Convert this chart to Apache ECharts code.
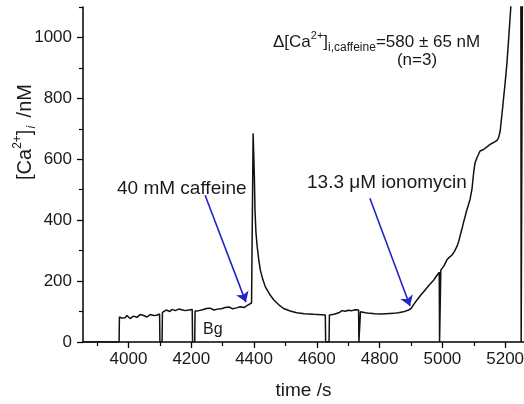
<!DOCTYPE html>
<html>
<head>
<meta charset="utf-8">
<script src="https://cdn.jsdelivr.net/npm/echarts@6/dist/echarts.min.js"></script>
<style>
  html, body { margin: 0; padding: 0; background: #fff; }
  #chart { width: 524px; height: 404px; }
</style>
</head>
<body>
<div id="chart"></div>
<script>
// trace pieces, [time s, Ca nM]
const restTrace = [
  [3855, 0], [3970, 0], [3971, 82], [3978, 79], [3984, 84], [3989, 80], [3995, 87], [4000, 83],
  [4005, 77], [4010, 82], [4016, 85], [4021, 79], [4027, 81], [4032, 86], [4037, 90], [4043, 86],
  [4048, 87], [4054, 83], [4059, 82], [4064, 88], [4069, 90], [4075, 86], [4080, 87], [4085, 89],
  [4090, 88], [4095, 90], [4099, 92], [4100, 0], [4107, 0], [4108, 97], [4114, 102], [4120, 105],
  [4126, 99], [4132, 100], [4138, 107], [4143, 110], [4149, 103], [4154, 104], [4160, 108],
  [4165, 111], [4170, 106], [4175, 107], [4181, 103], [4187, 109], [4192, 105], [4198, 103],
  [4203, 107], [4204, 0], [4211, 0], [4212, 102], [4218, 107], [4224, 103], [4230, 109],
  [4236, 106], [4242, 104], [4248, 110], [4254, 106], [4260, 111], [4266, 107], [4272, 105],
  [4278, 111], [4284, 108], [4290, 113], [4296, 109], [4302, 107], [4308, 113], [4314, 110],
  [4320, 115], [4326, 111], [4332, 109], [4338, 115], [4344, 112], [4350, 110], [4356, 116],
  [4362, 118], [4368, 113], [4374, 119], [4380, 121], [4386, 124], [4392, 128], [4395, 132]
];
const caffeineTrace = [
  [4397, 685], [4399, 680], [4401, 540], [4403, 430], [4406, 360], [4410, 313], [4415, 270],
  [4420, 236], [4428, 205], [4436, 181], [4450, 156], [4463, 138], [4478, 123], [4494, 110],
  [4515, 102], [4536, 96], [4560, 93], [4590, 91], [4627, 89], [4628, 0], [4639, 0], [4640, 89],
  [4655, 91], [4670, 96], [4680, 103], [4690, 101], [4700, 104], [4712, 103], [4722, 106],
  [4733, 105], [4734, 0], [4738, 0], [4739, 99], [4755, 96], [4770, 94], [4785, 93], [4802, 92],
  [4820, 93], [4845, 94], [4860, 96], [4876, 99], [4892, 105]
];
const ionomycinTrace = [
  [4900, 110], [4910, 125], [4919, 138], [4932, 155], [4945, 171], [4958, 187], [4972, 203],
  [4980, 215], [4990, 229], [4991, 0], [4994, 0], [4995, 236], [5005, 250], [5014, 269],
  [5022, 278], [5030, 285], [5038, 297], [5046, 313], [5052, 330], [5057, 351], [5062, 370],
  [5067, 391], [5077, 430], [5088, 468], [5094, 500], [5100, 560], [5104, 588], [5110, 605],
  [5120, 627], [5131, 632], [5141, 640], [5152, 649], [5163, 655], [5174, 662], [5179, 671],
  [5184, 692], [5192, 770], [5200, 852], [5206, 920], [5211, 994], [5218, 1100], [5222, 1200],
  [5250, 1200], [5251, 0], [5254, 0], [5255, 1200], [5260, 1200]
];

const xMajor = [4000, 4200, 4400, 4600, 4800, 5000, 5200];
const xMinor = [3900, 4100, 4300, 4500, 4700, 4900, 5100];
const yMajor = [0, 200, 400, 600, 800, 1000];
const yMinor = [100, 300, 500, 700, 900, 1100];

// arrows: [from, to] in data coords
const caffeineArrow = [[4244, 482], [4374, 131]];
const ionomycinArrow = [[4769, 472], [4897, 118]];

const chart = echarts.init(document.getElementById('chart'));
const font = 'Liberation Sans, Arial, sans-serif';
const ink = '#1a1a1a';
const plain = v => String(v);

const baseX = {
  type: 'value', min: 3855, max: 5260, position: 'bottom',
  splitLine: { show: false }
};
const baseY = {
  type: 'value', min: 0, max: 1100, position: 'left',
  splitLine: { show: false }
};

const option = {
  animation: false,
  grid: { left: 83, right: 0, top: 7, bottom: 62, outerBoundsMode: 'none', containLabel: false },
  xAxis: [
    Object.assign({}, baseX, {
      axisLine: { lineStyle: { color: '#000', width: 1.5 } },
      axisTick: { customValues: xMajor, length: 6, lineStyle: { color: '#000', width: 1.3 } },
      axisLabel: { customValues: xMajor, formatter: plain, color: ink, fontSize: 17, fontFamily: font, margin: 9 },
      name: 'time /s', nameLocation: 'middle', nameGap: 39,
      nameTextStyle: { color: ink, fontSize: 19, fontFamily: font }
    }),
    Object.assign({}, baseX, {
      axisLine: { show: false },
      axisTick: { customValues: xMinor, length: 4, lineStyle: { color: '#000', width: 1.2 } },
      axisLabel: { show: false }
    })
  ],
  yAxis: [
    Object.assign({}, baseY, {
      axisLine: { show: true, lineStyle: { color: '#000', width: 1.5 } },
      axisTick: { show: true, customValues: yMajor, length: 6, lineStyle: { color: '#000', width: 1.3 } },
      axisLabel: { customValues: yMajor, formatter: plain, color: ink, fontSize: 17, fontFamily: font, margin: 11 }
    }),
    Object.assign({}, baseY, {
      axisLine: { show: false },
      axisTick: { show: true, customValues: yMinor, length: 4, lineStyle: { color: '#000', width: 1.2 } },
      axisLabel: { show: false }
    })
  ],
  series: [{
    type: 'line',
    data: restTrace.concat(caffeineTrace, ionomycinTrace),
    showSymbol: false,
    clip: true,
    lineStyle: { color: '#111', width: 1.5 },
    markLine: {
      silent: true,
      symbol: ['none', 'arrow'],
      symbolSize: 10,
      label: { show: false },
      itemStyle: { color: '#2424c8' },
      lineStyle: { color: '#2424c8', width: 1.6, type: 'solid' },
      emphasis: { disabled: true },
      data: [
        [{ coord: caffeineArrow[0] }, { coord: caffeineArrow[1] }],
        [{ coord: ionomycinArrow[0] }, { coord: ionomycinArrow[1] }]
      ]
    }
  }],
  graphic: [
    {
      type: 'text', x: 25, y: 132, rotation: Math.PI / 2,
      style: {
        text: '{n|[Ca}{sup|2+}{n|]}{sub|i}{n| /nM}',
        align: 'center', verticalAlign: 'middle', fill: ink,
        rich: {
          n: { fontSize: 20, fontFamily: font, fill: ink, lineHeight: 26 },
          sup: { fontSize: 12, fontFamily: font, fill: ink, lineHeight: 13, verticalAlign: 'top' },
          sub: { fontSize: 12, fontFamily: font, fill: ink, fontStyle: 'italic', lineHeight: 12, verticalAlign: 'bottom', padding: [0, 3, 0, 1] }
        }
      }
    },
    {
      type: 'text', x: 273, y: 42,
      style: {
        text: '{n|Δ[Ca}{sup|2+}{n|]}{sub|i,caffeine}{n|=580 ± 65 nM}',
        align: 'left', verticalAlign: 'middle', fill: ink,
        rich: {
          n: { fontSize: 17, fontFamily: font, fill: ink, lineHeight: 24 },
          sup: { fontSize: 11, fontFamily: font, fill: ink, lineHeight: 12, verticalAlign: 'top' },
          sub: { fontSize: 12, fontFamily: font, fill: ink, lineHeight: 11, verticalAlign: 'bottom' }
        }
      }
    },
    {
      type: 'text', x: 417, y: 60,
      style: { text: '(n=3)', align: 'center', verticalAlign: 'middle', fill: ink, fontSize: 17, fontFamily: font }
    },
    {
      type: 'text', x: 117, y: 189,
      style: { text: '40 mM caffeine', align: 'left', verticalAlign: 'middle', fill: ink, fontSize: 19, fontFamily: font }
    },
    {
      type: 'text', x: 307, y: 183,
      style: { text: '13.3 μM ionomycin', align: 'left', verticalAlign: 'middle', fill: ink, fontSize: 19, fontFamily: font }
    },
    {
      type: 'text', x: 203, y: 330,
      style: { text: 'Bg', align: 'left', verticalAlign: 'middle', fill: ink, fontSize: 16, fontFamily: font }
    }
  ]
};

chart.setOption(option);
</script>
</body>
</html>
